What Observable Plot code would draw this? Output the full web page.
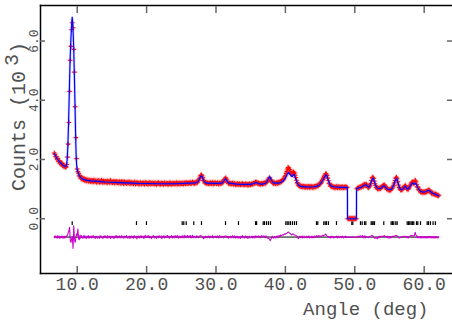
<!DOCTYPE html>
<html><head><meta charset="utf-8">
<script src="https://cdn.jsdelivr.net/npm/d3@7"></script>
<script src="https://cdn.jsdelivr.net/npm/@observablehq/plot@0.6"></script>
<style>body{margin:0;background:#fff}svg{display:block}</style>
</head><body><div id="chart"></div>
<script>
// Observed scan: 2-theta from 6.7 deg in 0.1 deg steps, counts
const angleStart = 6.7, angleStep = 0.1;
const observed = [
2220,2170,2090,
2090,2010,2030,1940,1960,1880,1910,1840,1870,1790,
1810,1760,1790,1740,1750,1830,2080,2520,3250,4300,
5350,5820,6380,6620,6450,5720,4950,3780,2740,2030,
1680,1590,1530,1440,1450,1370,1400,1330,1370,1310,
1350,1290,1330,1270,1320,1300,1260,1310,1290,1250,
1300,1260,1290,1240,1310,1270,1250,1290,1230,1280,
1250,1290,1230,1270,1240,1300,1260,1220,1280,1250,
1230,1270,1250,1210,1280,1240,1260,1220,1290,1230,
1250,1210,1240,1270,1200,1250,1230,1260,1210,1240,
1200,1250,1230,1190,1260,1220,1240,1180,1250,1210,
1230,1190,1240,1200,1220,1250,1180,1210,1230,1190,
1220,1180,1210,1240,1170,1200,1230,1190,1210,1160,
1200,1230,1170,1190,1210,1180,1220,1160,1200,1230,
1180,1200,1160,1210,1190,1230,1170,1190,1210,1180,
1200,1170,1220,1180,1150,1200,1190,1230,1170,1190,
1160,1210,1180,1200,1150,1190,1220,1170,1180,1200,
1190,1150,1200,1180,1220,1160,1190,1170,1210,1180,
1200,1170,1190,1220,1160,1200,1180,1210,1170,1200,
1180,1210,1190,1170,1220,1200,1180,1230,1190,1210,
1190,1220,1200,1230,1180,1210,1240,1200,1220,1190,
1230,1200,1240,1220,1270,1300,1350,1400,1460,1480,
1440,1380,1290,1270,1210,1230,1190,1220,1200,1180,
1210,1190,1220,1180,1200,1230,1170,1210,1190,1220,
1200,1180,1220,1190,1170,1210,1200,1180,1230,1220,
1240,1250,1320,1350,1380,1330,1250,1240,1190,1210,
1180,1200,1170,1190,1210,1160,1180,1190,1150,1170,
1160,1190,1150,1170,1180,1140,1170,1160,1190,1150,
1170,1140,1160,1180,1150,1170,1130,1160,1180,1150,
1150,1170,1180,1160,1200,1210,1190,1240,1220,1230,
1190,1210,1170,1190,1160,1180,1200,1170,1190,1200,
1210,1190,1230,1240,1260,1300,1340,1390,1320,1290,
1300,1240,1210,1190,1220,1200,1180,1210,1230,1190,
1220,1240,1210,1260,1250,1280,1300,1320,1360,1410,
1450,1530,1600,1680,1730,1710,1660,1600,1530,1500,
1520,1560,1580,1540,1470,1390,1300,1220,1180,1130,
1100,1120,1090,1080,1110,1070,1090,1100,1060,1080,
1070,1090,1060,1080,1100,1050,1080,1070,1090,1060,
1080,1060,1090,1100,1070,1110,1120,1100,1150,1160,
1190,1200,1240,1290,1330,1380,1430,1470,1520,1510,
1460,1370,1290,1200,1170,1100,1120,1080,1090,1060,
1080,1050,1070,1060,1090,1040,1070,1080,1050,1060,
1070,1050,1080,1060,1040,1070,1060,1080,1050,1060,
0,0,0,0,0,0,0,0,0,0,
0,0,0,1010,1040,1020,1060,1050,1080,1060,
1090,1120,1080,1140,1160,1120,1170,1150,1100,1060,
1050,1090,1130,1200,1290,1380,1400,1360,1270,1180,
1120,1060,1040,1000,1030,1010,1040,1020,1050,1070,
1100,1130,1120,1140,1080,1050,1000,1020,970,990,
960,990,970,1010,1030,1080,1130,1210,1290,1370,
1400,1350,1250,1140,1060,1010,980,970,990,1000,
1030,1070,1100,1120,1080,1000,1020,990,1040,1080,
1130,1170,1220,1240,1230,1190,1220,1300,1250,1160,
1080,1060,990,960,950,900,920,880,910,890,
910,880,920,900,940,930,970,950,960,910,
880,850,870,830,850,820,840,800,820,790,
770,790
];

// Calculated profile vertices
const calcAngle = [6.7,6.8,7.0,7.2,7.4,7.6,7.8,8.0,8.2,8.35,8.45,8.55,8.65,8.75,8.85,8.95,9.05,9.15,9.22,9.28,9.35,9.42,9.5,9.6,9.7,9.78,9.86,9.95,10.05,10.2,10.4,10.6,10.8,11.0,11.5,12,13,14,15,16,17,18,19,20,22,24,25,26,27,27.2,27.4,27.6,27.8,27.9,28.0,28.2,28.4,28.6,30,30.8,31.0,31.2,31.35,31.5,31.7,31.9,33,34,35,35.4,35.75,36.1,36.4,36.8,37.1,37.3,37.5,37.7,37.8,38.0,38.2,38.4,39,39.4,39.7,40.0,40.2,40.4,40.5,40.7,40.9,41.0,41.2,41.3,41.5,41.7,41.9,42.2,43,44,44.6,44.9,45.2,45.5,45.8,45.9,46.0,46.2,46.4,46.6,46.9,48.0,48.94,48.95,50.24,50.25,50.7,51.0,51.3,51.6,51.8,52.0,52.2,52.4,52.6,52.7,52.9,53.1,53.3,53.7,54.0,54.2,54.4,54.7,55.0,55.3,55.6,55.8,56.0,56.1,56.3,56.5,56.7,57.0,57.2,57.3,57.5,57.7,58.0,58.3,58.5,58.6,58.7,58.8,59.0,59.2,59.5,59.8,60.2,60.6,60.7,60.9,61.2,61.6,62.1];
const calcCounts = [2200,2150,2070,2000,1940,1890,1840,1800,1770,1755,1790,1980,2450,3200,4150,5150,5850,6350,6650,6800,6620,6250,5720,4750,3650,2700,2030,1720,1610,1500,1420,1370,1340,1320,1295,1280,1260,1240,1230,1220,1210,1200,1190,1188,1182,1182,1190,1200,1210,1220,1250,1330,1430,1450,1420,1300,1230,1200,1195,1200,1230,1300,1350,1310,1230,1200,1170,1160,1160,1190,1225,1190,1170,1170,1200,1230,1330,1420,1410,1310,1220,1200,1200,1230,1280,1380,1480,1560,1560,1480,1430,1430,1490,1480,1340,1210,1140,1090,1075,1070,1100,1140,1220,1350,1470,1480,1440,1280,1160,1100,1080,1060,1060,0,0,1020,1050,1070,1120,1150,1100,1060,1120,1260,1370,1350,1200,1080,1030,1020,1080,1110,1070,1000,980,1000,1120,1270,1360,1320,1150,1020,980,1010,1090,1100,1010,1010,1100,1210,1170,1170,1200,1190,1090,1000,920,900,910,960,960,920,860,830,770];

// Difference (obs - calc), hundredths of 10^3 counts, same grid as observed
const difference = [
3,-2,4,
-1,-4,5,-2,3,-5,2,-1,4,-3,
2,-4,3,-2,1,4,6,14,21,33,
-12,-18,-5,0,-38,38,-7,-18,-4,10,
6,27,-6,-9,7,-4,5,-1,-4,4,
-3,5,-1,-5,3,-2,5,-4,2,-1,
4,-3,2,5,-2,1,-5,3,2,-4,
2,-1,-4,5,-2,3,0,-5,2,4,
-2,4,-1,-4,5,-2,2,3,-5,1,
3,-2,2,-5,1,4,-2,5,-3,2,
0,4,-3,2,5,-2,1,-4,3,2,
-2,5,0,-4,2,3,-5,1,4,-2,
2,-4,5,0,-2,3,-6,2,0,4,
-3,2,5,-2,1,3,-5,2,6,-2,
1,4,-2,5,-3,2,0,-5,3,2,
5,-3,1,2,-5,3,2,-2,5,0,
-2,4,-5,2,0,5,-3,2,-2,4,
6,-2,3,-4,2,0,5,-3,2,3,
-3,5,2,-2,6,0,-4,3,2,-2,
3,-2,5,0,-3,6,2,-2,4,5,
-2,4,0,5,-3,2,6,-2,3,0,
2,-3,4,0,3,-2,2,4,5,3,
3,-2,-5,2,-3,3,0,2,-2,4,
2,-3,3,0,-2,5,-3,2,0,3,
2,-2,4,0,-3,5,2,-2,3,2,
2,-3,3,2,4,3,-2,2,-4,2,
0,3,-2,2,5,-3,0,4,-3,2,
-2,3,-4,0,2,-5,2,0,5,-2,
2,-3,0,4,-2,2,-5,0,3,-2,
-2,2,3,-3,2,3,-3,4,1,3,
0,4,-2,3,-2,2,5,1,3,4,
3,-2,4,2,-3,-4,-5,-7,-12,-8,
-2,3,-2,-3,2,0,-3,2,4,-2,
3,5,2,7,4,6,8,7,9,11,
9,12,13,15,17,16,13,12,9,7,
10,11,9,7,6,6,4,2,-3,-5,
2,3,0,-2,4,-3,2,3,-2,0,
-2,3,-2,2,4,-3,0,-2,3,-2,
2,-2,3,2,0,5,3,0,5,3,
4,2,3,5,6,4,7,8,10,7,
4,2,2,-2,2,-3,3,0,2,-3,
2,-2,0,1,3,-3,2,3,-2,0,
2,-2,3,0,-3,2,0,3,-2,0,
0,0,0,0,0,0,0,0,0,0,
0,0,0,-2,2,0,3,1,4,2,
3,5,-3,3,4,-3,3,2,0,-2,
-2,2,2,3,5,6,4,2,-2,-4,
-2,-4,-2,-5,2,-2,3,0,3,3,
3,4,2,5,2,2,0,3,-3,2,
-3,2,-3,2,2,3,2,4,3,5,
6,4,2,-2,-3,-2,0,-2,2,2,
3,3,2,3,3,-2,2,-3,2,3,
4,5,5,4,5,3,7,16,8,3,
-2,3,-2,-2,2,-3,2,-3,2,-2,
2,-3,2,-3,2,-3,2,-2,3,-2,
2,-3,2,-3,2,-3,2,-3,2,-2,
-3,2
];
const diffBaseline = -0.62; // 10^3 counts

// Reflection positions (deg)
const reflections = [9.28,18.54,19.98,25.13,25.36,25.71,26.8,27.91,31.37,33.24,35.7,35.85,36.8,36.99,37.28,37.56,37.85,40.06,40.26,40.49,40.73,41.02,41.31,41.6,44.48,44.67,45.53,45.73,45.92,46.2,47.36,49.57,49.72,50.82,51.06,51.4,51.59,52.36,52.51,52.65,52.84,54.18,55.24,55.43,55.62,55.91,56.11,57.55,57.74,57.93,58.12,58.31,58.5,58.89,59.08,59.47,60.43,60.62,60.9,61.28,61.61];
const reflTop = -0.10, reflBottom = -0.23;

const xTicks = [10, 20, 30, 40, 50, 60];
const yTicks = [0, 2, 4, 6];
const xTitle = "Angle (deg)";
const yTitle = "Counts (10³)";

const angleAt = i => Math.round((angleStart + i * angleStep) * 100) / 100;
const obsData = observed.map((c, i) => ({angle: angleAt(i), value: c / 1000}));
const diffData = difference.map((d, i) => ({angle: angleAt(i), value: diffBaseline + d / 100}));
const calcData = calcAngle.map((a, i) => ({angle: a, value: calcCounts[i] / 1000}));
const lastAngle = angleAt(observed.length - 1);

const font = "'Liberation Mono', 'DejaVu Sans Mono', monospace";
const tickColor = "#666";
const textColor = "#505050";

const chart = Plot.plot({
  width: 452, height: 324,
  marginLeft: 40, marginRight: 0, marginTop: 5, marginBottom: 51,
  style: {fontFamily: font, background: "#fff", overflow: "visible"},
  x: {domain: [4.71, 64.08]},
  y: {domain: [-1.85, 7.2]},
  marks: [
    Plot.ruleY([diffBaseline], {x1: angleStart, x2: lastAngle, stroke: "#000", strokeWidth: 1}),
    Plot.line(diffData, {x: "angle", y: "value", stroke: "#cc00cc", strokeWidth: 1.1}),
    Plot.ruleX(reflections, {x: d => d, y1: reflTop, y2: reflBottom, stroke: "#000", strokeWidth: 1.2}),
    Plot.dot(obsData, {x: "angle", y: "value", symbol: "plus", r: 2.3, stroke: "#ff5050", strokeWidth: 1.5, strokeOpacity: 0.28}),
    Plot.dot(obsData, {x: "angle", y: "value", symbol: "plus", r: 1.5, stroke: "#ff0000", strokeWidth: 1.1}),
    Plot.line(calcData, {x: "angle", y: "value", stroke: "#7070ff", strokeWidth: 2.6, strokeOpacity: 0.3}),
    Plot.line(calcData, {x: "angle", y: "value", stroke: "#0000ff", strokeWidth: 1.15}),
    Plot.frame({anchor: "left", stroke: "#000", strokeWidth: 1.5}),
    Plot.frame({anchor: "top", stroke: "#000", strokeWidth: 1.5}),
    Plot.frame({anchor: "bottom", stroke: "#000", strokeWidth: 1.5}),
    Plot.axisX(xTicks, {anchor: "bottom", tickSize: -7, fill: "none", stroke: tickColor, strokeWidth: 1.5, label: null}),
    Plot.axisX(xTicks, {anchor: "top", tickSize: -7, fill: "none", stroke: tickColor, strokeWidth: 1.5, label: null}),
    Plot.axisY(yTicks, {anchor: "left", tickSize: -5, fill: "none", stroke: tickColor, strokeWidth: 1.5, label: null}),
    Plot.axisY(yTicks, {anchor: "right", tickSize: -6, fill: "none", stroke: tickColor, strokeWidth: 1.5, label: null}),
    Plot.axisX(xTicks, {anchor: "bottom", tickSize: 0, tickPadding: 3.5, fill: textColor, fontSize: 18, tickFormat: d => d.toFixed(1), label: null}),
    Plot.axisY(yTicks, {anchor: "left", tickSize: 0, tickRotate: -90, tickPadding: 3, fill: textColor, fontSize: 13, tickFormat: d => d.toFixed(1), label: null}),
    Plot.text([xTitle], {frameAnchor: "bottom-right", dx: -24, dy: 35, textAnchor: "end", lineAnchor: "middle", fontSize: 19, fill: textColor}),
    Plot.text([yTitle], {frameAnchor: "left", dx: -22, dy: -23, rotate: -90, textAnchor: "middle", lineAnchor: "middle", fontSize: 20, fill: textColor, className: "ytitle"})
  ]
});
document.getElementById("chart").appendChild(chart);

// render the exponent as a raised digit
const yt = d3.select(chart).select("g.ytitle text");
if (!yt.empty()) {
  yt.text(null);
  yt.append("tspan").text("Counts (10");
  yt.append("tspan").attr("dx", "0.25em").attr("dy", "-0.35em").text("3");
  yt.append("tspan").attr("dy", "0.35em").text(")");
}
</script>
</body></html>
